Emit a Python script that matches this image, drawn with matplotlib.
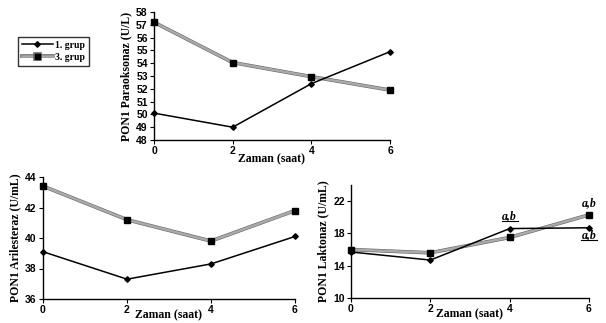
import matplotlib
matplotlib.use("Agg")
import matplotlib.pyplot as plt
import matplotlib.patheffects as pe

hours = [0, 2, 4, 6]
group_labels = ["1. grup", "3. grup"]

parao_g1 = [50.1, 49.0, 52.4, 54.9]
parao_g3 = [57.2, 54.05, 52.95, 51.9]
aril_g1 = [39.1, 37.3, 38.3, 40.1]
aril_g3 = [43.4, 41.2, 39.8, 41.8]
lakt_g1 = [15.7, 14.7, 18.6, 18.7]
lakt_g3 = [16.0, 15.6, 17.5, 20.3]

xlabel = "Zaman (saat)"
ylabels = ["PON1 Paraoksonaz (U/L)", "PON1 Arilesteraz (U/mL)", "PON1 Laktonaz (U/mL)"]

W, H = 606, 323
fig = plt.figure(figsize=(W / 100, H / 100), dpi=100)

def rect(x0, x1, ytop, ybot):
    return [x0 / W, 1 - ybot / H, (x1 - x0) / W, (ybot - ytop) / H]

serif = "Liberation Serif"
sans = "Liberation Sans"

def draw(ax, g1, g3, ylim, yticks, ylabel, xlpad):
    ax.plot(hours, g3, color="#aaaaaa", lw=1.8, zorder=2, clip_on=False,
            path_effects=[pe.Stroke(linewidth=2.6, foreground="#666666"), pe.Normal()])
    ax.plot(hours, g3, ls="none", marker="s", ms=4, mfc="black", mec="black",
            zorder=3, clip_on=False)
    ax.plot(hours, g1, color="black", lw=1.1, marker="D", ms=2.8,
            mfc="black", mec="black", zorder=4, clip_on=False)
    ax.set_xlim(0, 6)
    ax.set_ylim(*ylim)
    ax.set_xticks(hours)
    ax.set_yticks(yticks)
    for s in ["top", "right"]:
        ax.spines[s].set_visible(False)
    for s in ["left", "bottom"]:
        ax.spines[s].set_linewidth(1.0)
    ax.tick_params(direction="out", length=3, width=0.8, labelsize=7.5, pad=1.5)
    for t in ax.get_xticklabels() + ax.get_yticklabels():
        t.set_fontfamily(sans)
        t.set_fontweight("bold")
    ax.set_ylabel(ylabel, fontfamily=serif, fontweight="bold", fontsize=8.5, labelpad=3)
    ax.set_xlabel(xlabel, fontfamily=serif, fontweight="bold", fontsize=8.5, labelpad=xlpad)

ax1 = fig.add_axes(rect(154, 390, 12, 140))
draw(ax1, parao_g1, parao_g3, (48, 58), list(range(48, 59)), ylabels[0], -2)

ax2 = fig.add_axes(rect(43, 295, 177, 299))
draw(ax2, aril_g1, aril_g3, (36, 44), [36, 38, 40, 42, 44], ylabels[1], -4)

ax3 = fig.add_axes(rect(351, 589, 185, 298))
draw(ax3, lakt_g1, lakt_g3, (10, 24), [10, 14, 18, 22], ylabels[2], -4)

# significance annotations
akw = dict(fontfamily=serif, fontweight="bold", fontstyle="italic", fontsize=8.5,
           ha="center", va="baseline")
ax3.text(hours[2], lakt_g1[2] + 1.2, "a,b", **akw)
ax3.plot([3.8, 4.2], [lakt_g1[2] + 0.9] * 2, color="black", lw=0.8, clip_on=False)
ax3.text(hours[3], lakt_g3[3] + 1.1, "a,b", **akw)
ax3.text(hours[3], lakt_g1[3] - 1.25, "a,b", **akw)
ax3.plot([5.8, 6.2], [lakt_g1[3] - 1.55] * 2, color="black", lw=0.8, clip_on=False)

# legend proxies
h1, = ax1.plot([], [], color="black", lw=1.1, marker="D", ms=2.8)
h3, = ax1.plot([], [], color="#aaaaaa", lw=1.8, marker="s", ms=4, mfc="black", mec="black",
               path_effects=[pe.Stroke(linewidth=2.6, foreground="#666666"), pe.Normal()])
leg = fig.legend([h1, h3], group_labels, loc="upper left",
                 bbox_to_anchor=(18 / W, 1 - 37 / H), frameon=True, fancybox=False,
                 edgecolor="black", handlelength=3.2, handletextpad=0.2,
                 borderpad=0.4, labelspacing=0.3, borderaxespad=0,
                 prop=dict(family=serif, weight="bold", size=7))
leg.get_frame().set_linewidth(1.0)

fig.savefig("out.png", dpi=100)
